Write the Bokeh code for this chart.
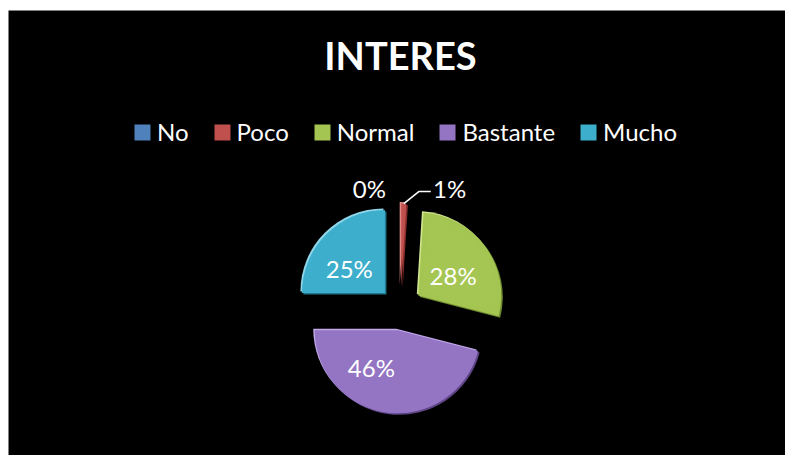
import numpy as np
from bokeh.plotting import figure
from bokeh.models import Range1d, ColumnDataSource, Legend, LegendItem
from bokeh.core.properties import value
from bokeh.embed import file_html
from bokeh.resources import INLINE

# ---------------- data ----------------
title_text = "INTERES"
categories = ["No", "Poco", "Normal", "Bastante", "Mucho"]
shares = [0, 1, 28, 46, 25]            # percent
pct_labels = ["0%", "1%", "28%", "46%", "25%"]

# ---------------- styles / layout ----------------
face_col = ["#4F81BD", "#C0504D", "#A5C552", "#9475C4", "#3DAECB"]
light_col = ["#8DB0DC", "#E08A87", "#D0E58E", "#C3A9EC", "#8FD6EA"]
dark_col = ["#2E5486", "#8A2E2B", "#6D8A2E", "#5E4688", "#22788F"]

W, H = 785, 455
LEFT, TOP = 8, 10                 # white band around the black chart area
FW, FH = W - LEFT, H - TOP        # frame size (1 data unit = 1 px)
CX, CY = 400 - LEFT, H - 308      # pie centre in data units
R = 83          # pie radius
EXPLODE = 22    # explosion distance
BEVEL = 4
RIM = 1.5
# label placement: radius from centre and angular shift (deg) from slice bisector
lab_r = [124, 130, 62, 66, 65]
lab_shift = [14.5, -20.4, -4, -19, 7]

p = figure(width=W, height=H, x_range=Range1d(0, FW), y_range=Range1d(0, FH),
           output_backend="svg", toolbar_location=None,
           min_border_left=LEFT, min_border_top=TOP, min_border_right=0, min_border_bottom=0,
           background_fill_color="black", border_fill_color="white",
           outline_line_color=None, x_axis_location=None, y_axis_location=None)
p.grid.visible = False

vals = np.array(shares, dtype=float) / 100.0
cum = np.concatenate([[0.0], np.cumsum(vals)])
start = np.pi / 2 - 2 * np.pi * cum[:-1]
end = np.pi / 2 - 2 * np.pi * cum[1:]
mid = (start + end) / 2
ax = CX + EXPLODE * np.cos(mid)
ay = CY + EXPLODE * np.sin(mid)
rad = np.where(vals > 0, R, 0.0)   # empty slices are not drawn

src = ColumnDataSource(dict(cat=categories, x=ax, y=ay, s=start, e=end, r=rad,
                            xd=ax + RIM, yd=ay - RIM, xl=ax - RIM, yl=ay + RIM,
                            face=face_col, light=light_col, dark=dark_col))
# rim lighting (light up-left, dark down-right)
p.wedge(x="xd", y="yd", radius="r", start_angle="s", end_angle="e", direction="clock",
        source=src, fill_color="dark", line_color=None)
p.wedge(x="xl", y="yl", radius="r", start_angle="s", end_angle="e", direction="clock",
        source=src, fill_color="light", line_color=None)
main = p.wedge(x="x", y="y", radius="r", start_angle="s", end_angle="e", direction="clock",
               source=src, fill_color="face", line_color=None)

# bevel inner faces
half = (start - end) / 2
fx, fy, fr, fs, fe, fc = [], [], [], [], [], []
for i in range(len(categories)):
    if shares[i] >= 5:
        sft = BEVEL / np.sin(min(half[i], np.pi / 2))
        fx.append(ax[i] + sft * np.cos(mid[i]))
        fy.append(ay[i] + sft * np.sin(mid[i]))
        fr.append(R - BEVEL - sft)
        fs.append(start[i]); fe.append(end[i]); fc.append(face_col[i])
fsrc = ColumnDataSource(dict(x=fx, y=fy, r=fr, s=fs, e=fe, c=fc))
p.wedge(x="x", y="y", radius="r", start_angle="s", end_angle="e", direction="clock",
        source=fsrc, fill_color="c", fill_alpha=0.85, line_color=None)

# percentage labels
la = mid + np.radians(lab_shift)
lx = CX + np.array(lab_r) * np.cos(la)
ly = CY + np.array(lab_r) * np.sin(la)
p.text(x=lx, y=ly, text=pct_labels, text_color="white", text_font=value("Lato"),
       text_font_size="24px", text_align="center", text_baseline="middle")

# leader line for the thin slice
i1 = 1
tipx = ax[i1] + R * np.cos(mid[i1])
tipy = ay[i1] + R * np.sin(mid[i1])
p.line(x=[tipx, tipx + 15, tipx + 27], y=[tipy, tipy + 12, tipy + 12],
       line_color="white", line_width=1.5)

# title
p.text(x=[CX], y=[H - 54], text=[title_text], text_color="white",
       text_font=value("Lato"), text_font_style="bold", text_font_size="38px",
       text_align="center", text_baseline="middle")

# legend
items = [LegendItem(label=c, renderers=[main], index=i) for i, c in enumerate(categories)]
leg = Legend(items=items, orientation="horizontal", location=(124, 309),
             glyph_width=20, glyph_height=20, label_standoff=5, spacing=23,
             padding=0, margin=0, background_fill_alpha=0, border_line_alpha=0,
             label_text_color="white", label_text_font="Lato", label_text_font_size="24px")
p.add_layout(leg, "center")

open("out.html", "w").write(file_html(p, INLINE))
